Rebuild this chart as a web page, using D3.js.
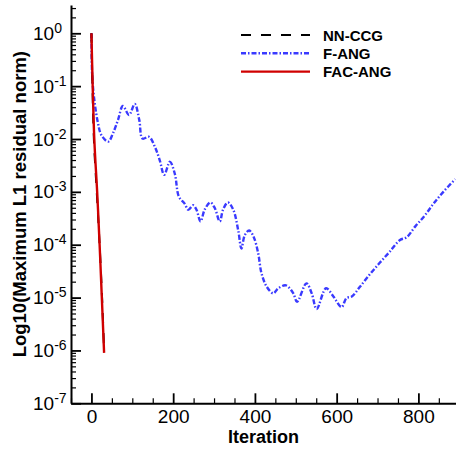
<!DOCTYPE html>
<html>
<head>
<meta charset="utf-8">
<script src="https://cdn.jsdelivr.net/npm/d3@7"></script>
<style>
  body { margin: 0; background: #fff; }
  svg { display: block; font-family: "Liberation Sans", Arial, sans-serif; }
</style>
</head>
<body>
<div id="chart"></div>
<script>
const seriesNames = ["NN-CCG", "F-ANG", "FAC-ANG"];

const nnccgIter = [0, 6, 13, 20, 26, 31];
const nnccgRes = [1, 1e-2, 1e-3, 1e-4, 1e-5, 1e-6];

const fangIter = [0, 2, 8, 16, 24, 41, 53, 65, 77, 92, 106, 117, 125, 141, 155, 167, 178, 192, 204, 214,
  228, 237, 249, 257, 267, 277, 291, 302, 314, 322, 334, 347, 359, 367, 375, 386, 397, 408, 416, 429,
  445, 457, 476, 494, 503, 526, 539, 551, 574, 592, 612, 624, 637, 657, 682, 706, 730, 755, 771, 792,
  816, 837, 861, 890];
const fangRes = [1, 1.5e-1, 4.8e-2, 2.0e-2, 1.2e-2, 8.9e-3, 1.3e-2, 2.3e-2, 4.2e-2, 2.85e-2, 4.6e-2, 2.3e-2, 1.02e-2, 1.1e-2, 7.2e-3, 4.0e-3, 2.1e-3, 3.7e-3, 2.2e-3, 8.1e-4,
  6.0e-4, 4.6e-4, 5.6e-4, 4.6e-4, 2.75e-4, 4.6e-4, 6.3e-4, 4.9e-4, 2.75e-4, 4.6e-4, 6.3e-4, 4.6e-4, 1.9e-4, 8.5e-5, 1.5e-4, 1.86e-4, 1.4e-4, 6.9e-5, 2.9e-5, 1.6e-5,
  1.2e-5, 1.5e-5, 1.7e-5, 1.2e-5, 8.3e-6, 1.86e-5, 1.2e-5, 6.1e-6, 1.5e-5, 1.05e-5, 6.6e-6, 9.8e-6, 1.05e-5, 1.6e-5, 2.8e-5, 4.6e-5, 7.4e-5, 1.23e-4, 1.38e-4, 2.2e-4,
  3.6e-4, 6.0e-4, 1.0e-3, 1.74e-3];

const facangIter = [0, 7, 14, 20, 25, 31];
const facangRes = [1, 1e-2, 1e-3, 1e-4, 1.2e-5, 9e-7];

const xTicks = [0, 200, 400, 600, 800];
const yExponents = [0, -1, -2, -3, -4, -5, -6, -7];

const W = 456, H = 450;
const plotLeft = 71, plotRight = 456, plotTop = 5, plotBottom = 403.3;

const svg = d3.select("#chart").append("svg")
  .attr("width", W).attr("height", H);

const x = d3.scaleLinear().domain([-50, 892]).range([plotLeft, plotRight]);
const y = d3.scaleLog().domain([1e-7, Math.pow(10, 0.535)]).range([plotBottom, plotTop]);

// minor ticks
const xMinor = d3.range(-50, 900, 50).filter(v => !xTicks.includes(v));
const yMinor = [];
for (let e = -7; e <= 0; e++) for (let k = 2; k <= 9; k++) {
  const v = k * Math.pow(10, e);
  if (v <= y.domain()[1]) yMinor.push(v);
}

svg.append("g")
  .attr("transform", `translate(0,${plotBottom})`)
  .call(d3.axisBottom(x).tickValues(xMinor).tickSize(-5).tickFormat(""))
  .call(g => g.select(".domain").remove())
  .call(g => g.selectAll("line").attr("stroke", "#000").attr("stroke-width", 1.2));

svg.append("g")
  .attr("transform", `translate(0,${plotBottom})`)
  .call(d3.axisBottom(x).tickValues(xTicks).tickSize(-10).tickPadding(6.5).tickSizeOuter(0))
  .call(g => g.select(".domain").attr("stroke-width", 2))
  .call(g => g.selectAll("line").attr("stroke", "#000").attr("stroke-width", 1.8))
  .call(g => g.selectAll("text").attr("fill", "#000").style("font-size", "19px"));

svg.append("g")
  .attr("transform", `translate(${plotLeft},0)`)
  .call(d3.axisLeft(y).tickValues(yMinor).tickSize(-5).tickFormat(""))
  .call(g => g.select(".domain").remove())
  .call(g => g.selectAll("line").attr("stroke", "#000").attr("stroke-width", 1.2));

const yMajor = yExponents.map(e => Math.pow(10, e));
svg.append("g")
  .attr("transform", `translate(${plotLeft},0)`)
  .call(d3.axisLeft(y).tickValues(yMajor).tickSize(-10).tickSizeOuter(0).tickFormat(""))
  .call(g => g.select(".domain").attr("stroke-width", 2))
  .call(g => g.selectAll("line").attr("stroke", "#000").attr("stroke-width", 1.8));

// y tick labels with superscripts
const yLab = svg.append("g").style("font-size", "19px");
yExponents.forEach(e => {
  const t = yLab.append("text")
    .attr("x", 33)
    .attr("y", y(Math.pow(10, e)) + 6.5);
  t.append("tspan").text("10");
  t.append("tspan").attr("dy", -7).style("font-size", "14px").text(e);
});

// axis titles
svg.append("text")
  .attr("x", (plotLeft + plotRight) / 2)
  .attr("y", 443)
  .attr("text-anchor", "middle")
  .style("font-size", "18px")
  .style("font-weight", "bold")
  .text("Iteration");

svg.append("text")
  .attr("transform", `translate(26,${(plotTop + plotBottom) / 2}) rotate(-90)`)
  .attr("text-anchor", "middle")
  .style("font-size", "18.5px")
  .style("font-weight", "bold")
  .text("Log10(Maximum L1 residual norm)");

const styles = [
  { color: "#000", width: 2, dash: "10,10" },
  { color: "#3a3aff", width: 2.4, dash: "5,2,1.5,2" },
  { color: "#d00000", width: 2.4, dash: null }
];

const series = [
  nnccgIter.map((d, i) => [d, nnccgRes[i]]),
  fangIter.map((d, i) => [d, fangRes[i]]),
  facangIter.map((d, i) => [d, facangRes[i]])
];

const line = d3.line()
  .x(d => x(d[0]))
  .y(d => y(d[1]))
  .curve(d3.curveCatmullRom.alpha(0.5));

[1, 0, 2].forEach(i => {
  svg.append("path")
    .datum(series[i])
    .attr("fill", "none")
    .attr("stroke", styles[i].color)
    .attr("stroke-width", styles[i].width)
    .attr("stroke-dasharray", styles[i].dash)
    .attr("d", line);
});

// legend
const legend = svg.append("g");
seriesNames.forEach((name, i) => {
  const ly = 35 + i * 18.3;
  legend.append("line")
    .attr("x1", 241).attr("x2", 310)
    .attr("y1", ly).attr("y2", ly)
    .attr("stroke", styles[i].color)
    .attr("stroke-width", styles[i].width)
    .attr("stroke-dasharray", styles[i].dash);
  legend.append("text")
    .attr("x", 323).attr("y", ly + 5.5)
    .style("font-size", "15px")
    .style("font-weight", "bold")
    .text(name);
});
</script>
</body>
</html>
